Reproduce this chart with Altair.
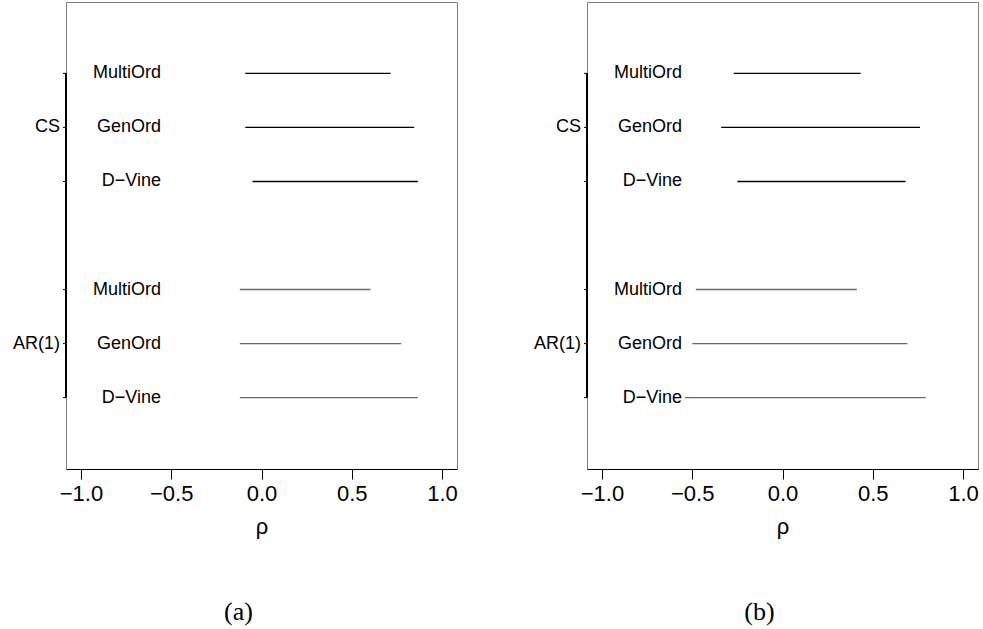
import altair as alt
import pandas as pd

methods = ["MultiOrd", "GenOrd", "D−Vine"]
structures = ["CS", "AR(1)"]
x_ticks = [-1.0, -0.5, 0.0, 0.5, 1.0]

# panel (a)
a_cs_lo = [-0.09, -0.09, -0.05]
a_cs_hi = [0.715, 0.846, 0.866]
a_ar_lo = [-0.12, -0.12, -0.12]
a_ar_hi = [0.604, 0.774, 0.866]

# panel (b)
b_cs_lo = [-0.27, -0.34, -0.25]
b_cs_hi = [0.433, 0.762, 0.681]
b_ar_lo = [-0.48, -0.50, -0.54]
b_ar_hi = [0.412, 0.692, 0.793]


def make_df(cs_lo, cs_hi, ar_lo, ar_hi):
    rows = []
    # slots from top: CS rows, a blank gap, then AR(1) rows
    n = len(methods)
    total = 2 * n + 1
    for i, m in enumerate(methods):
        rows.append({"structure": "CS", "method": m, "lo": cs_lo[i], "hi": cs_hi[i], "slot": total - i})
    for i, m in enumerate(methods):
        rows.append({"structure": "AR(1)", "method": m, "lo": ar_lo[i], "hi": ar_hi[i], "slot": n - i})
    return pd.DataFrame(rows)


FONT = "Liberation Sans"
x_scale = alt.Scale(domain=[-1.083, 1.083], nice=False, zero=False)
y_scale = alt.Scale(domain=[-0.32, 8.32], nice=False, zero=False)


def panel(df, caption):
    base = alt.Chart(df)
    lines = base.mark_rule(strokeWidth=1.4).encode(
        x=alt.X("lo:Q", scale=x_scale,
                axis=alt.Axis(values=x_ticks, format=".1f", title="ρ", grid=False,
                              tickSize=10, tickColor="black", domainColor="black",
                              labelFontSize=22, titleFontSize=22, labelFont=FONT, titleFont=FONT,
                              labelColor="black", titleColor="black", titleFontWeight="normal",
                              labelPadding=4, titlePadding=12, labelFlush=False)),
        x2="hi:Q",
        y=alt.Y("slot:Q", scale=y_scale, axis=None),
        color=alt.Color("structure:N", scale=alt.Scale(domain=structures, range=["#000000", "#6a6a6a"]),
                        legend=None),
    )
    labels = base.mark_text(align="right", baseline="middle", fontSize=18, font=FONT, color="black").encode(
        x=alt.value(95), y=alt.Y("slot:Q", scale=y_scale), text="method:N"
    )
    ticks = base.mark_rule(color="black", strokeWidth=1).encode(
        x=alt.value(-3), x2=alt.value(0), y=alt.Y("slot:Q", scale=y_scale)
    )
    axis_line = base.transform_aggregate(
        lo_slot="min(slot)", hi_slot="max(slot)"
    ).mark_rule(color="black", strokeWidth=2).encode(
        x=alt.value(0), y=alt.Y("lo_slot:Q", scale=y_scale), y2="hi_slot:Q"
    )
    struct_labels = base.transform_aggregate(
        mid="mean(slot)", groupby=["structure"]
    ).mark_text(align="right", baseline="middle", fontSize=18, font=FONT, color="black").encode(
        x=alt.value(-6), y=alt.Y("mid:Q", scale=y_scale), text="structure:N"
    )
    return alt.layer(lines, labels, ticks, axis_line, struct_labels).properties(
        width=391, height=467,
        title=alt.TitleParams(text=caption, orient="bottom", font="Liberation Serif", fontSize=26,
                              fontWeight="normal", color="black", anchor="middle", dx=-23, offset=62),
    )


left = panel(make_df(a_cs_lo, a_cs_hi, a_ar_lo, a_ar_hi), "(a)")
right = panel(make_df(b_cs_lo, b_cs_hi, b_ar_lo, b_ar_hi), "(b)")

chart = alt.hconcat(left, right, spacing=130, bounds="flush").properties(
    padding={"left": 12, "top": 1, "right": 0, "bottom": 0},
    background="white",
).configure_view(stroke="#7f7f7f", strokeWidth=1)

chart.save("out.html", embed_options={"renderer": "svg", "actions": False})
